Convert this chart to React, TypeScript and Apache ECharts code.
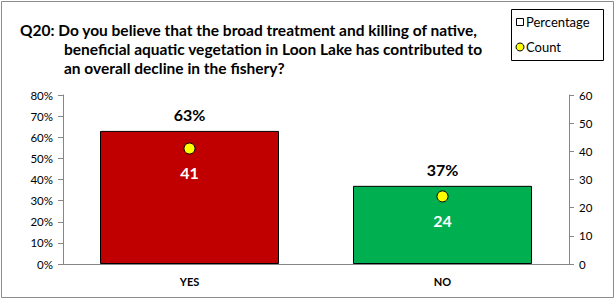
import React, { useEffect, useRef } from "react";
import * as echarts from "echarts";

const categories = ["YES", "NO"];
const percentages = [63, 37];
const counts = [41, 24];
const barColors = ["#C00000", "#00B050"];
const leftTicks = { min: 0, max: 80, interval: 10 };
const rightTicks = { min: 0, max: 60, interval: 10 };
const titleLines = [
  "Q20: Do you believe that the broad treatment and killing of native,",
  "beneficial aquatic vegetation in Loon Lake has contributed to",
  "an overall decline in the fishery?",
];

const FONT = "Lato, 'Noto Sans', sans-serif";

export default function App() {
  const ref = useRef<HTMLDivElement>(null);
  useEffect(() => {
    if (!ref.current) return;
    const chart = echarts.init(ref.current, null, { renderer: "svg" });
    const axisGray = "#868686";
    chart.setOption({
      animation: false,
      backgroundColor: "#fff",
      textStyle: { fontFamily: FONT },
      grid: { left: 63, right: 47, top: 95, bottom: 37, containLabel: false },
      xAxis: {
        type: "category",
        data: categories,
        axisLine: { lineStyle: { color: axisGray } },
        axisTick: { show: false },
        axisLabel: { color: "#000", fontWeight: "bold", fontSize: 11, fontFamily: FONT, margin: 12 },
      },
      yAxis: [
        {
          type: "value",
          ...leftTicks,
          position: "left",
          axisLine: { show: true, lineStyle: { color: axisGray } },
          axisTick: { show: true, length: 5, lineStyle: { color: axisGray } },
          splitLine: { show: false },
          axisLabel: { color: "#000", fontSize: 11.5, fontFamily: FONT, formatter: "{value}%", margin: 10 },
        },
        {
          type: "value",
          ...rightTicks,
          position: "right",
          axisLine: { show: true, lineStyle: { color: axisGray } },
          axisTick: { show: true, length: 5, lineStyle: { color: axisGray } },
          splitLine: { show: false },
          axisLabel: { color: "#000", fontSize: 11.5, fontFamily: FONT, margin: 10 },
        },
      ],
      series: [
        {
          name: "Percentage",
          type: "bar",
          yAxisIndex: 0,
          barWidth: 179,
          data: percentages.map((v, i) => ({
            value: v,
            itemStyle: { color: barColors[i], borderColor: "#000", borderWidth: 1 },
          })),
          label: {
            show: true,
            position: "top",
            distance: 8,
            formatter: "{c}%",
            color: "#000",
            fontWeight: "bold",
            fontSize: 16,
            fontFamily: FONT,
          },
        },
        {
          name: "Count",
          type: "scatter",
          yAxisIndex: 1,
          symbol: "circle",
          symbolSize: 11,
          itemStyle: { color: "#FFFF00", borderColor: "#000", borderWidth: 1, opacity: 1 },
          data: counts,
          label: {
            show: true,
            position: "bottom",
            distance: 10,
            color: "#fff",
            fontWeight: "bold",
            fontSize: 16,
            fontFamily: FONT,
          },
          z: 5,
        },
      ],
      graphic: [
        {
          type: "rect",
          shape: { x: 1.5, y: 1.5, width: 612, height: 296 },
          style: { fill: "none", stroke: "#8c8c8c", lineWidth: 1 },
          silent: true,
        },
        {
          type: "text",
          x: 20,
          y: 30,
          style: { text: titleLines[0], font: `bold 15.5px ${FONT}`, fill: "#000", textVerticalAlign: "middle" },
        },
        {
          type: "text",
          x: 64,
          y: 49,
          style: { text: titleLines[1], font: `bold 15.5px ${FONT}`, fill: "#000", textVerticalAlign: "middle" },
        },
        {
          type: "text",
          x: 64,
          y: 68,
          style: { text: titleLines[2], font: `bold 15.5px ${FONT}`, fill: "#000", textVerticalAlign: "middle" },
        },
        {
          type: "rect",
          shape: { x: 511.5, y: 9.5, width: 92, height: 51 },
          style: { fill: "#fff", stroke: "#000", lineWidth: 1 },
        },
        {
          type: "rect",
          shape: { x: 516.5, y: 18.5, width: 7, height: 7 },
          style: { fill: "#fff", stroke: "#000", lineWidth: 1 },
        },
        {
          type: "text",
          x: 526,
          y: 22,
          style: { text: "Percentage", font: `13px ${FONT}`, fill: "#000", textVerticalAlign: "middle" },
        },
        {
          type: "circle",
          shape: { cx: 520, cy: 47, r: 4 },
          style: { fill: "#FFFF00", stroke: "#000", lineWidth: 1 },
        },
        {
          type: "text",
          x: 526,
          y: 47,
          style: { text: "Count", font: `13px ${FONT}`, fill: "#000", textVerticalAlign: "middle" },
        },
      ],
    });
    return () => chart.dispose();
  }, []);
  return <div ref={ref} style={{ width: 616, height: 301, position: "absolute", left: 0, top: 0 }} />;
}
